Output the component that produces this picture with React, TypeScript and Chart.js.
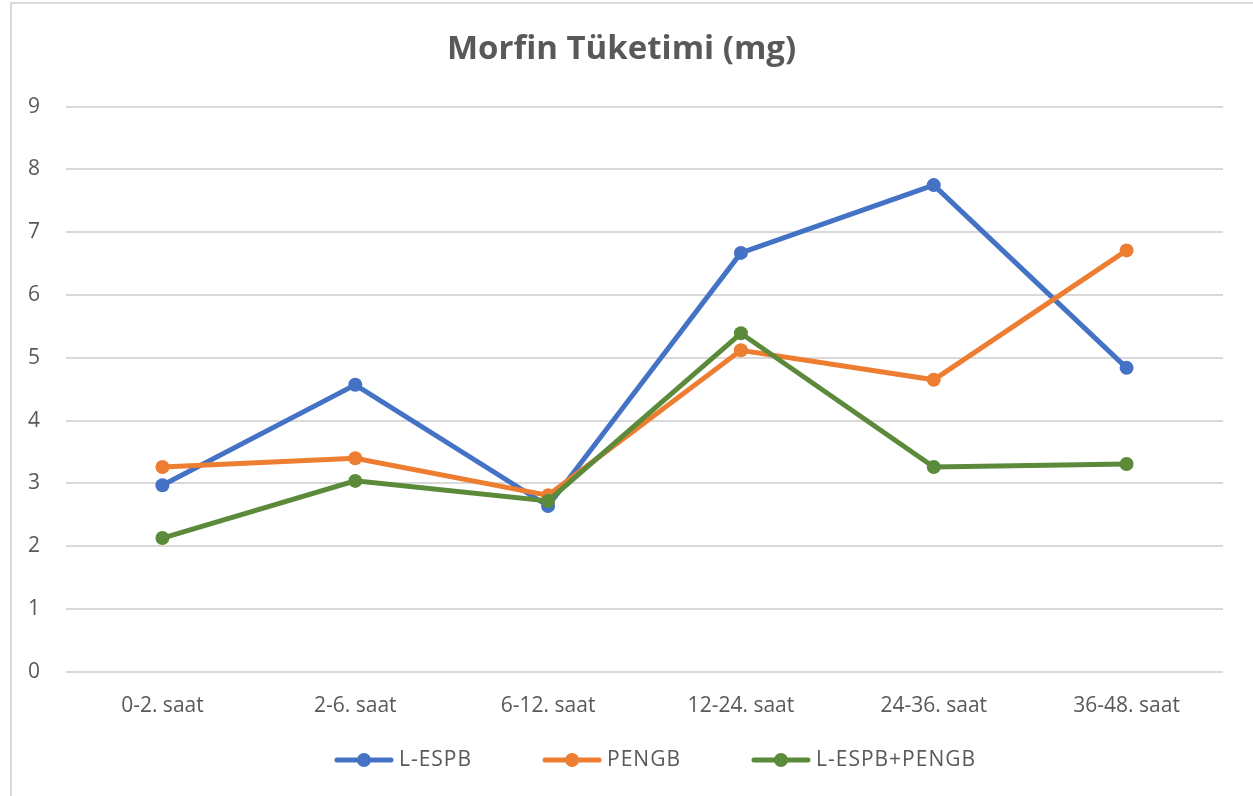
import React, { useEffect, useRef } from "react";
import { Chart, registerables } from "chart.js";

Chart.register(...registerables);

const categories = ["0-2. saat", "2-6. saat", "6-12. saat", "12-24. saat", "24-36. saat", "36-48. saat"];
const seriesNames = ["L-ESPB", "PENGB", "L-ESPB+PENGB"];
const lEspb = [2.97, 4.57, 2.64, 6.67, 7.75, 4.84];
const pengb = [3.26, 3.4, 2.81, 5.12, 4.65, 6.71];
const combined = [2.13, 3.04, 2.72, 5.39, 3.26, 3.31];
const colors = ["#4472C4", "#ED7D31", "#5B8A3A"];
const titleText = "Morfin Tüketimi (mg)";
const yMin = 0;
const yMax = 9;

const FONT = "'Open Sans'";
const TEXT_COLOR = "#595959";

const legendPlugin = {
  id: "excelLegend",
  afterDraw(chart: any) {
    const ctx = chart.ctx as CanvasRenderingContext2D;
    const iconW = 60;
    const iconGap = 5;
    const itemGap = 70;
    const y = 760;
    ctx.save();
    ctx.font = `21px ${FONT}`;
    (ctx as any).letterSpacing = "1px";
    const items = chart.data.datasets.map((ds: any) => ({
      text: ds.label as string,
      color: ds.borderColor as string,
      w: ctx.measureText(ds.label).width,
    }));
    const total =
      items.reduce((s: number, it: any) => s + iconW + iconGap + it.w, 0) + itemGap * (items.length - 1);
    let x = 655 - total / 2;
    for (const it of items) {
      ctx.strokeStyle = it.color;
      ctx.lineWidth = 5;
      ctx.lineCap = "round";
      ctx.beginPath();
      ctx.moveTo(x + 3, y);
      ctx.lineTo(x + iconW - 3, y);
      ctx.stroke();
      ctx.fillStyle = it.color;
      ctx.beginPath();
      ctx.arc(x + iconW / 2, y, 7, 0, Math.PI * 2);
      ctx.fill();
      x += iconW + iconGap;
      ctx.fillStyle = TEXT_COLOR;
      ctx.textAlign = "left";
      ctx.textBaseline = "middle";
      ctx.fillText(it.text, x, y);
      x += it.w + itemGap;
    }
    ctx.restore();
  },
};

export default function App() {
  const ref = useRef<HTMLCanvasElement | null>(null);
  useEffect(() => {
    document.body.style.margin = "0";
    const values = [lEspb, pengb, combined];
    const chart = new Chart(ref.current!, {
      type: "line",
      data: {
        labels: categories,
        datasets: seriesNames.map((name, i) => ({
          label: name,
          data: values[i],
          borderColor: colors[i],
          backgroundColor: colors[i],
          borderWidth: 5,
          pointRadius: 7,
          pointHoverRadius: 7,
          pointBorderWidth: 0,
          tension: 0,
          order: 3 - i,
        })),
      },
      options: {
        animation: false,
        responsive: false,
        maintainAspectRatio: false,
        layout: { padding: { left: 20, right: 30, top: 30, bottom: 55 } },
        plugins: {
          title: {
            display: true,
            text: titleText,
            color: TEXT_COLOR,
            font: { family: FONT, size: 33, weight: "bold", lineHeight: 1.2 },
            padding: { top: 0, bottom: 37 },
          },
          legend: { display: false },
          tooltip: { enabled: false },
        },
        scales: {
          x: {
            offset: true,
            grid: { display: false, drawTicks: false },
            border: { display: false },
            ticks: { color: TEXT_COLOR, font: { family: FONT, size: 21 }, padding: 22, maxRotation: 0 },
          },
          y: {
            min: yMin,
            max: yMax,
            afterFit: (scale: any) => {
              scale.width = 46;
            },
            grid: { color: "#D9D9D9", lineWidth: 2, drawTicks: false },
            border: { display: false },
            ticks: { stepSize: 1, color: TEXT_COLOR, font: { family: FONT, size: 21 }, padding: 26 },
          },
        },
      },
      plugins: [legendPlugin],
    });
    return () => chart.destroy();
  }, []);
  return (
    <div style={{ position: "relative", width: 1253, height: 796, background: "#fff", overflow: "hidden" }}>
      <div
        style={{
          position: "absolute",
          left: 10,
          top: 2,
          right: -2,
          bottom: -2,
          borderLeft: "2px solid #D9D9D9",
          borderTop: "2px solid #D9D9D9",
        }}
      />
      <canvas ref={ref} width={1253} height={796} style={{ position: "absolute", left: 0, top: 0 }} />
    </div>
  );
}
